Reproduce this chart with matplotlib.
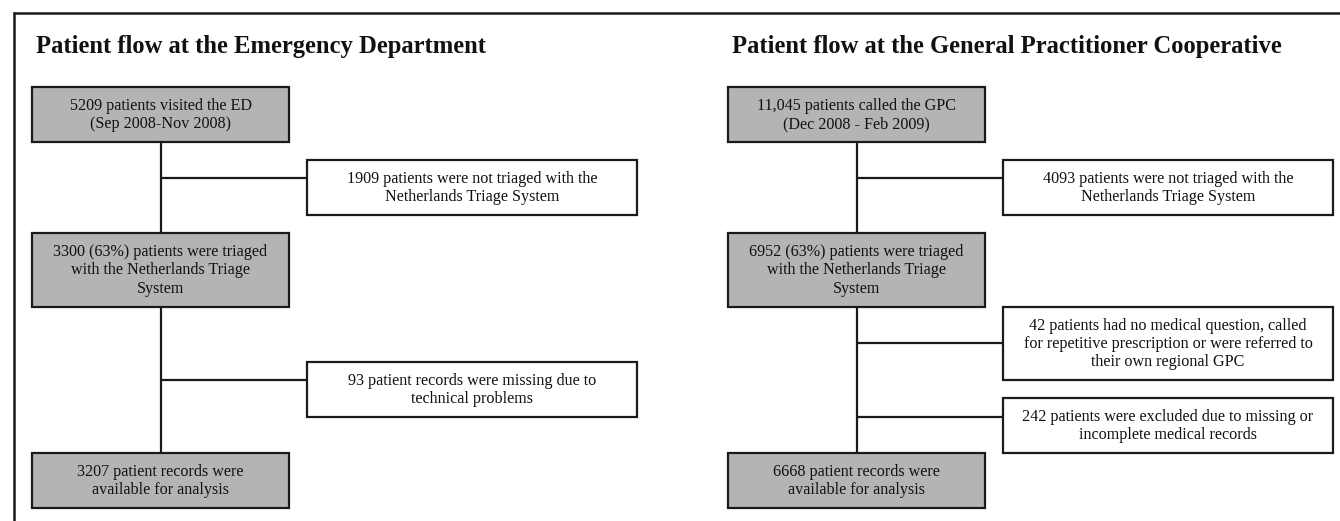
import matplotlib
matplotlib.use("Agg")
import matplotlib.pyplot as plt
from matplotlib.patches import Rectangle

# ---- content ----
titles = ["Patient flow at the Emergency Department",
          "Patient flow at the General Practitioner Cooperative"]

ed_main = ["5209 patients visited the ED\n(Sep 2008-Nov 2008)",
           "3300 (63%) patients were triaged\nwith the Netherlands Triage\nSystem",
           "3207 patient records were\navailable for analysis"]
ed_side = ["1909 patients were not triaged with the\nNetherlands Triage System",
           "93 patient records were missing due to\ntechnical problems"]

gpc_main = ["11,045 patients called the GPC\n(Dec 2008 - Feb 2009)",
            "6952 (63%) patients were triaged\nwith the Netherlands Triage\nSystem",
            "6668 patient records were\navailable for analysis"]
gpc_side = ["4093 patients were not triaged with the\nNetherlands Triage System",
            "42 patients had no medical question, called\nfor repetitive prescription or were referred to\ntheir own regional GPC",
            "242 patients were excluded due to missing or\nincomplete medical records"]

# ---- style ----
W, H = 1340, 521
GRAY = "#b4b4b4"
EDGE = "#1a1a1a"
FONT = "Liberation Serif"
BODY_FS = 11.6
TITLE_FS = 17.7
LW = 1.6

fig = plt.figure(figsize=(W / 100, H / 100), dpi=100)
ax = fig.add_axes([0, 0, 1, 1])
ax.set_xlim(0, W)
ax.set_ylim(H, 0)
ax.axis("off")

# outer frame (top and left lines)
ax.plot([13, W], [12.5, 12.5], color=EDGE, lw=1.8, solid_capstyle="butt")
ax.plot([13.5, 13.5], [12, H], color=EDGE, lw=1.8, solid_capstyle="butt")


def box(x0, y0, x1, y1, text, fill):
    ax.add_patch(Rectangle((x0, y0), x1 - x0, y1 - y0, facecolor=fill,
                           edgecolor=EDGE, lw=LW, zorder=3))
    ax.text((x0 + x1) / 2, (y0 + y1) / 2 + 0.5, text, ha="center", va="center",
            family=FONT, fontsize=BODY_FS, color="#111111", linespacing=1.17,
            zorder=4)


def line(xs, ys):
    ax.plot(xs, ys, color=EDGE, lw=LW, zorder=2, solid_capstyle="butt")


def panel(dx, title, mains, sides, main_y, side_y, conn_y):
    mx0, mx1 = 32 + dx, 289 + dx
    sx0, sx1 = 307 + dx, 637 + dx
    vx = 161 + dx
    ax.text(36 + dx, 53, title, ha="left", va="baseline", family=FONT,
            fontsize=TITLE_FS, fontweight="bold", color="#111111")
    line([vx, vx], [main_y[0][1], main_y[-1][0]])
    for (y0, y1), t in zip(main_y, mains):
        box(mx0, y0, mx1, y1, t, GRAY)
    for (y0, y1), cy, t in zip(side_y, conn_y, sides):
        line([vx, sx0], [cy, cy])
        box(sx0, y0, sx1, y1, t, "white")


main_y = [(87, 142), (233, 307), (453, 508)]
panel(0, titles[0], ed_main, ed_side, main_y,
      [(160, 215), (362, 417)], [178, 380])
panel(696, titles[1], gpc_main, gpc_side, main_y,
      [(160, 215), (307, 380), (398, 453)], [178, 343, 417])

fig.savefig("out.png", dpi=100)
